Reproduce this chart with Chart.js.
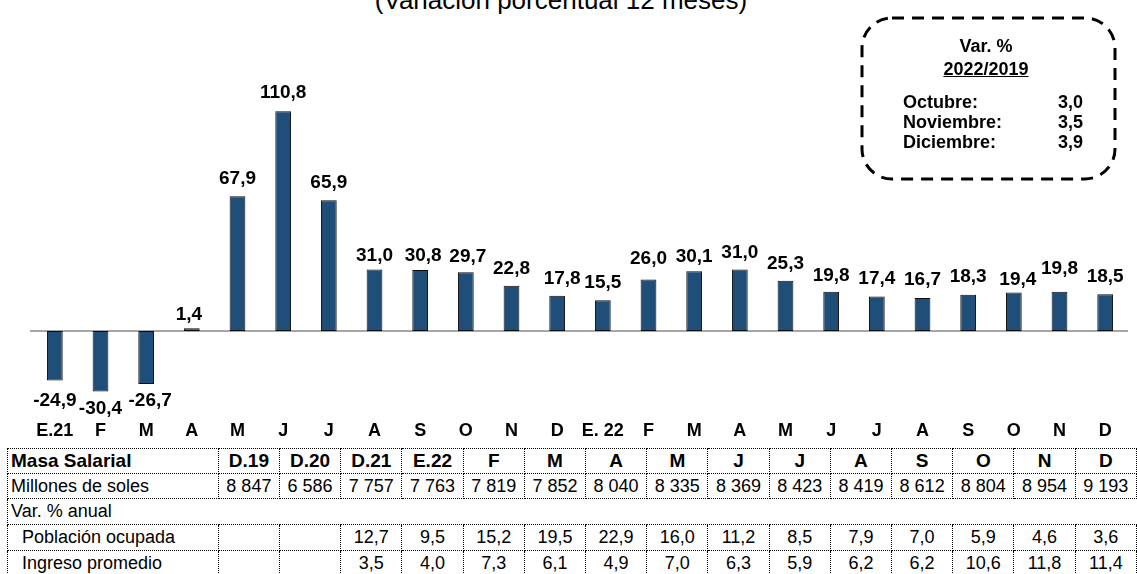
<!DOCTYPE html>
<html><head><meta charset="utf-8">
<script src="https://cdn.jsdelivr.net/npm/chart.js@4"></script>
<style>
html,body{margin:0;padding:0;background:#fff;overflow:hidden;width:1137px;height:574px;}
body{position:relative;font-family:Arial,"Liberation Sans",sans-serif;color:#000;}
#c{position:absolute;left:0;top:0;}
#title{position:absolute;left:0;width:1122px;text-align:center;top:-12px;font-size:26px;line-height:24px;white-space:nowrap;}
.bx{position:absolute;font-weight:bold;font-size:18px;line-height:20px;white-space:nowrap;}
#tbl{position:absolute;left:7px;top:448px;border-collapse:collapse;table-layout:fixed;font-size:18px;}
#tbl td{border:1px dotted #000;padding:0;white-space:nowrap;overflow:hidden;text-align:center;}
#tbl td.lab{text-align:left;padding-left:3px;}
#tbl td.ind{text-align:left;padding-left:14px;}
#tbl tr.h td{font-weight:bold;font-size:19px;}
</style></head>
<body>
<div id="title">(Variación porcentual 12 meses)</div>
<canvas id="c" width="1137" height="445"></canvas>
<div id="boxtxt"></div>
<table id="tbl"></table>
<script>
// ---- data ----
const categories = ['E.21','F','M','A','M','J','J','A','S','O','N','D','E. 22','F','M','A','M','J','J','A','S','O','N','D'];
const masaVar = [-24.9,-30.4,-26.7,1.4,67.9,110.8,65.9,31.0,30.8,29.7,22.8,17.8,15.5,26.0,30.1,31.0,25.3,19.8,17.4,16.7,18.3,19.4,19.8,18.5];
const tableCols = ['D.19','D.20','D.21','E.22','F','M','A','M','J','J','A','S','O','N','D'];
const millones = [8847,6586,7757,7763,7819,7852,8040,8335,8369,8423,8419,8612,8804,8954,9193];
const poblacion = [null,null,12.7,9.5,15.2,19.5,22.9,16.0,11.2,8.5,7.9,7.0,5.9,4.6,3.6];
const ingreso = [null,null,3.5,4.0,7.3,6.1,4.9,7.0,6.3,5.9,6.2,6.2,10.6,11.8,11.4];
const boxLabels = ['Octubre:','Noviembre:','Diciembre:'];
const boxValues = [3.0,3.5,3.9];

// label nudges (style only)
const nudge = [[0,1],[0,-2],[4,-2],[-3,3],[0,-1],[0,-1],[0,-1],[0,3],[3,3],[2,2],[0,0],[5,0],
               [0,-1],[0,-4],[0,2],[0,0],[0,0],[0,1],[0,-1],[0,-1],[0,-1],[4,4],[0,-6],[0,-1]];

const fmt1 = v => v.toFixed(1).replace('.', ',');
const fmtK = v => String(v).replace(/\B(?=(\d{3})+(?!\d))/g, ' ');

// ---- table ----
(function(){
  const t = document.getElementById('tbl');
  const cg = document.createElement('colgroup');
  const c0 = document.createElement('col'); c0.style.width='213px'; cg.appendChild(c0);
  tableCols.forEach(()=>{const c=document.createElement('col'); c.style.width='62px'; cg.appendChild(c);});
  t.appendChild(cg);
  function row(cls, h, first, firstCls, vals){
    const tr=document.createElement('tr'); if(cls) tr.className=cls; tr.style.height=h+'px';
    const td=document.createElement('td'); td.className=firstCls; td.textContent=first; tr.appendChild(td);
    vals.forEach(v=>{const d=document.createElement('td'); d.textContent=v; tr.appendChild(d);});
    t.appendChild(tr);
  }
  row('h',25,'Masa Salarial','lab',tableCols);
  row('',25,'Millones de soles','lab',millones.map(fmtK));
  const tr=document.createElement('tr'); tr.style.height='26px';
  const td=document.createElement('td'); td.colSpan=tableCols.length+1; td.className='lab';
  td.style.borderRight='none'; td.textContent='Var. % anual'; tr.appendChild(td); t.appendChild(tr);
  row('',26,'Población ocupada','ind',poblacion.map(v=>v==null?'':fmt1(v)));
  row('',26,'Ingreso promedio','ind',ingreso.map(v=>v==null?'':fmt1(v)));
})();

// ---- box text ----
(function(){
  const b=document.getElementById('boxtxt');
  function add(txt, css){const d=document.createElement('div'); d.className='bx'; d.textContent=txt; Object.assign(d.style, css); b.appendChild(d); return d;}
  add('Var. %', {left:'862px', width:'248px', textAlign:'center', top:'36px'});
  add('2022/2019', {left:'862px', width:'248px', textAlign:'center', top:'59px', textDecoration:'underline'});
  boxLabels.forEach((l,i)=>{
    add(l, {left:'903px', top:(92+i*20)+'px'});
    add(fmt1(boxValues[i]), {left:'1000px', width:'83px', textAlign:'right', top:(92+i*20)+'px'});
  });
})();

// ---- chart ----
const zeroLine = {
  id:'zeroLine',
  beforeDatasetsDraw(chart){
    const {ctx, chartArea, scales} = chart;
    const y = scales.y.getPixelForValue(0);
    ctx.save(); ctx.strokeStyle='#a6a6a6'; ctx.lineWidth=2;
    ctx.beginPath(); ctx.moveTo(chartArea.left - 2, y); ctx.lineTo(chartArea.right, y); ctx.stroke(); ctx.restore();
  }
};
const valueLabels = {
  id:'valueLabels',
  afterDatasetsDraw(chart){
    const ctx = chart.ctx; const meta = chart.getDatasetMeta(0);
    ctx.save(); ctx.fillStyle='#000'; ctx.font='bold 19px Arial, "Liberation Sans", sans-serif';
    ctx.textAlign='center'; ctx.textBaseline='middle';
    meta.data.forEach((bar,i)=>{
      const v = masaVar[i];
      let y = v >= 0 ? bar.y - 17 : bar.y + 19;
      ctx.fillText(fmt1(v), bar.x + nudge[i][0], y + nudge[i][1]);
    });
    ctx.restore();
  }
};
const dashedBox = {
  id:'dashedBox',
  afterDraw(chart){
    const ctx = chart.ctx;
    ctx.save(); ctx.strokeStyle='#000'; ctx.lineWidth=3; ctx.setLineDash([12,8]);
    ctx.beginPath(); ctx.roundRect(862,18,253,161,30); ctx.stroke(); ctx.restore();
  }
};

new Chart(document.getElementById('c'), {
  type:'bar',
  data:{labels:categories, datasets:[{data:masaVar, backgroundColor:'#1f4e79', borderColor:'#0d0d0d', borderWidth:1,
    borderSkipped:false, barPercentage:0.345, categoryPercentage:1}]},
  options:{
    responsive:false, animation:false, devicePixelRatio:1,
    layout:{padding:{left:32,right:9,top:10,bottom:0}},
    plugins:{legend:{display:false}, tooltip:{enabled:false}, title:{display:false}},
    scales:{
      x:{grid:{display:false, drawTicks:false}, border:{display:false},
         ticks:{color:'#000', font:{family:'Arial, "Liberation Sans", sans-serif', size:18, weight:'bold'}, maxRotation:0, minRotation:0, autoSkip:false, padding:3}},
      y:{display:false, min:-43.5, max:161.8}
    }
  },
  plugins:[zeroLine, valueLabels, dashedBox]
});
</script>
</body></html>
